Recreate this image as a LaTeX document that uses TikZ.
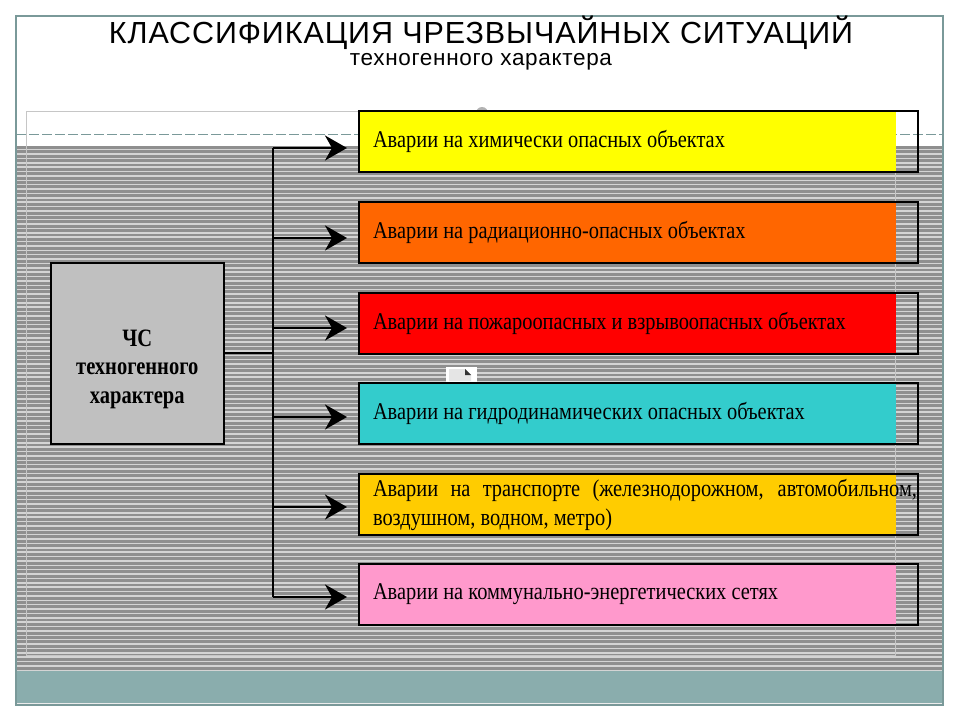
\documentclass[tikz,border=0pt]{standalone}
\usepackage{fontspec}
\setmainfont{Liberation Serif}
\newfontfamily\titlefont[LetterSpace=3]{Liberation Sans}
\newfontfamily\boxfont[FakeStretch=0.85]{Liberation Serif}
\newfontfamily\csfont[FakeStretch=0.82]{Liberation Serif}
\usetikzlibrary{arrows.meta}
\usetikzlibrary{positioning}

\definecolor{frameline}{HTML}{7A9999}
\definecolor{tealbar}{HTML}{8AADAD}
\definecolor{stripedark}{HTML}{8F8F8F}
\definecolor{stripelight}{HTML}{D4D4D4}
\definecolor{csgray}{HTML}{C0C0C0}
\definecolor{avyellow}{HTML}{FFFF00}
\definecolor{avorange}{HTML}{FF6600}
\definecolor{avred}{HTML}{FF0000}
\definecolor{avturq}{HTML}{33CCCC}
\definecolor{avgold}{HTML}{FFCC00}
\definecolor{avpink}{HTML}{FF99CC}

\tikzset{
  avaria/.style={draw=black, line width=2pt, anchor=north west,
    minimum width=559pt, minimum height=61pt, inner ysep=0pt, inner xsep=14pt,
    text width=531pt, align=justify, font=\boxfont\fontsize{24}{29}\selectfont,
    path picture={\fill[#1] (path picture bounding box.north west)
      rectangle ([xshift=-22pt]path picture bounding box.south east);}},
  trunk/.style={line width=2pt},
  arr/.style={line width=2.4pt, -{Stealth[length=22pt,width=25pt,inset=7pt]}, shorten >=11pt},
}

\begin{document}
\begin{tikzpicture}[x=1pt,y=-1pt]
\useasboundingbox (0,0) rectangle (960,720);
\fill[white] (0,0) rectangle (960,720);

% background of the slide
\fill[stripedark] (16,146) rectangle (943,671);
\foreach \k in {0,...,119}
  \fill[stripelight] (16,{146+4.375*\k+2.9}) rectangle (943,{146+4.375*\k+4.375});
\fill[tealbar] (16,671) rectangle (943,703);
\draw[white!85!gray, line width=1pt] (16,703.5) -- (943,703.5);
\draw[frameline, dash pattern=on 10pt off 3pt, line width=1pt] (16,134) -- (943,134);
\draw[frameline, line width=1.2pt] (16,16) rectangle (943,705);
\draw[gray!45, line width=0.8pt] (26,111) rectangle (895,655);
\fill[gray!60] (482,113) circle (6);

% title
\node[font=\titlefont\fontsize{30.5}{32}\selectfont, anchor=base, inner sep=0pt] (title) at (481,43) {КЛАССИФИКАЦИЯ ЧРЕЗВЫЧАЙНЫХ СИТУАЦИЙ};
\node[font=\titlefont\fontsize{22.5}{24}\selectfont, anchor=base, inner sep=0pt] (subtitle) at (481,65) {техногенного характера};

% left box
\node[draw, line width=1.5pt, fill=csgray, anchor=north west,
  minimum width=173pt, minimum height=181pt] (cs) at (50,262) {};
\node[font=\csfont\bfseries\fontsize{25}{28.5}\selectfont, align=center] (cslabel)
  at ([yshift=-16pt]cs.center) {ЧС\\техногенного\\характера};

% right boxes
\node[avaria=avyellow] (a1) at (358,110) {Аварии на химически опасных объектах};
\node[avaria=avorange] (a2) at (358,201) {Аварии на радиационно-опасных объектах};
\node[avaria=avred] (a3) at (358,292) {Аварии на пожароопасных и взрывоопасных объектах};
\node[avaria=avturq] (a4) at (358,382) {Аварии на гидродинамических опасных объектах};
\node[avaria=avgold] (a5) at (358,473) {\makebox[544pt][s]{Аварии на транспорте (железнодорожном, автомобильном,}\\воздушном, водном, метро)};
\node[avaria=avpink] (a6) at (358,563) {Аварии на коммунально-энергетических сетях};

% small icon
\fill[white] (446,367) rectangle (477,382);
\fill[gray!20] (449,369) -- (465,369) -- (471,375) -- (471,381) -- (449,381) -- cycle;
\fill[black!80] (465,369) -- (471,375) -- (465,375) -- cycle;

% connectors
\coordinate (t1) at (273,148);
\coordinate (t2) at (273,238);
\coordinate (t3) at (273,328);
\coordinate (t4) at (273,417);
\coordinate (t5) at (273,507);
\coordinate (t6) at (273,597);
\draw[trunk] (t1) -- (t6);
\draw[trunk] (cs.east) -- (cs.east -| t1);
\foreach \i in {1,...,6}
  \draw[arr] (t\i) -- (t\i -| a\i.west);
\end{tikzpicture}
\end{document}
